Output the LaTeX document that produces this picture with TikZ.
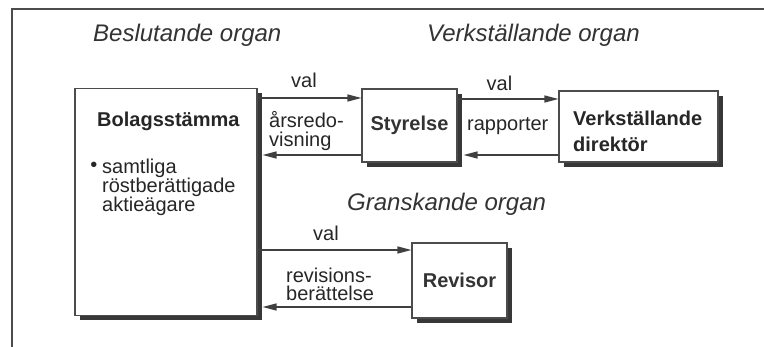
\documentclass[tikz,border=0pt]{standalone}
\usepackage{fontspec}
\setmainfont{Liberation Sans}
\usetikzlibrary{arrows.meta,shadows}
\begin{document}
\begin{tikzpicture}[x=1pt,y=-1pt,
    organ/.style={draw=black!70,fill=white,line width=1.1pt,inner sep=0pt,
      text=black!80,font=\fontsize{20}{26}\selectfont\bfseries,align=left,
      drop shadow={shadow xshift=5pt,shadow yshift=-5pt,fill=black!78,opacity=1}},
    pil/.style={draw=black!75,line width=1.2pt,-{Triangle[length=14pt,width=7pt]}},
    rubrik/.style={font=\fontsize{24}{28}\selectfont\itshape,text=black!80,inner sep=0pt},
    etikett/.style={font=\fontsize{20}{19}\selectfont,text=black!85,align=left,inner sep=0pt}]
  \useasboundingbox (0,0) rectangle (764,347);
  \draw[black!70,line width=1.2pt] (764,9) -- (12,9) -- (12,347);
  % rubriker
  \node[rubrik,anchor=base west] (beslut) at (93,42) {Beslutande organ};
  \node[rubrik,anchor=base west] (verk) at (427,42) {Verkställande organ};
  \node[rubrik,anchor=base west] (gransk) at (347,211) {Granskande organ};
  % organ
  \node[organ,minimum width=182pt,minimum height=227pt] (bolag) at (166,202) {};
  \node[organ,minimum width=95pt,minimum height=73pt] (styr) at (409.5,125.5) {Styrelse};
  \node[organ,minimum width=159pt,minimum height=71pt] (vd) at (638.5,126.5) {};
  \node[organ,minimum width=95pt,minimum height=75pt] (rev) at (459.5,280.5) {Revisor};
  \node[etikett,font=\fontsize{20}{19}\selectfont\bfseries,anchor=base west] (bolagnamn) at (97,127) {Bolagsstämma};
  \node[etikett,font=\fontsize{20}{26}\selectfont\bfseries,anchor=west] (vdnamn) at (573,131) {Verkställande\\direktör};
  \node[etikett] (punkt) at (94,167) {\textbullet};
  \node[etikett,anchor=west] (aegare) at (102,187) {samtliga\\röstberättigade\\aktieägare};
  % pilar
  \draw[pil] (bolag.east |- 0,98) -- (styr.west |- 0,98);
  \draw[pil,shorten >=5pt] (styr.west |- 0,155) -- (bolag.east |- 0,155);
  \draw[pil] (styr.east |- 0,99) -- (vd.west |- 0,99);
  \draw[pil,shorten >=6pt] (vd.west |- 0,155) -- (styr.east |- 0,155);
  \draw[pil] (bolag.east |- 0,250) -- (rev.west |- 0,250);
  \draw[pil,shorten >=5pt] (rev.west |- 0,307) -- (bolag.east |- 0,307);
  % etiketter
  \node[etikett,anchor=base] (val1) at (304,88) {val};
  \node[etikett,anchor=west] (arsred) at (269,131) {årsredo-\\visning};
  \node[etikett,anchor=base] (val2) at (499.5,91) {val};
  \node[etikett,anchor=base west] (rapp) at (467,131) {rapporter};
  \node[etikett,anchor=base] (val3) at (326,241) {val};
  \node[etikett,font=\fontsize{20}{18}\selectfont,anchor=west] (revber) at (286,284) {revisions-\\berättelse};
\end{tikzpicture}
\end{document}
